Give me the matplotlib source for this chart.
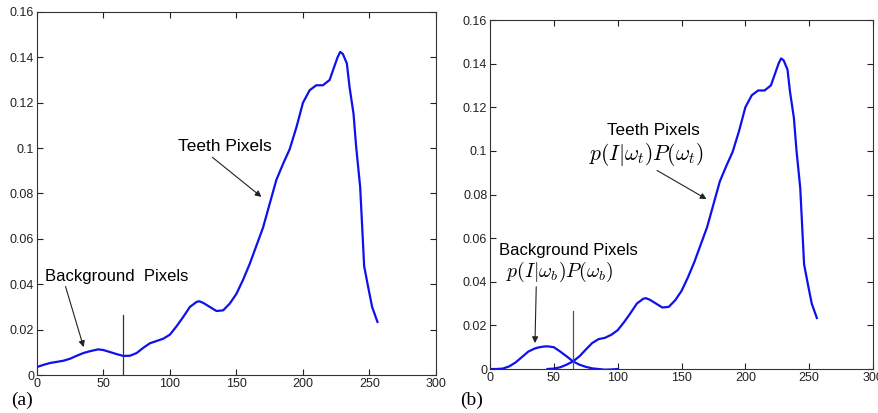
import numpy as np
import matplotlib
import matplotlib.pyplot as plt
from matplotlib.ticker import FuncFormatter

plt.rcParams['mathtext.fontset'] = 'cm'
plt.rcParams['font.family'] = ['Liberation Sans', 'DejaVu Sans']

# 歯の画素のヒストグラム（読み取り値）
teeth_x = [0, 5, 10, 15, 20, 25, 30, 35, 40, 46, 50, 55, 60, 65, 70, 75, 80, 85, 90, 95,
           100, 105, 110, 115, 120, 122, 125, 130, 135, 140, 145, 150, 155, 160, 165, 170,
           175, 180, 185, 190, 195, 200, 205, 210, 215, 220, 223, 226, 228, 230, 233,
           235, 238, 240, 243, 246, 249, 252, 256]
teeth_y = [0.0035, 0.0045, 0.0053, 0.0058, 0.0063, 0.0072, 0.0085, 0.0097, 0.0105, 0.0113,
           0.0110, 0.0101, 0.0092, 0.0084, 0.0085, 0.0097, 0.0120, 0.0140, 0.0150, 0.0160,
           0.0178, 0.0215, 0.0256, 0.0300, 0.0322, 0.0325, 0.0318, 0.0300, 0.0282, 0.0285,
           0.0315, 0.0358, 0.0420, 0.0490, 0.0570, 0.0650, 0.0755, 0.0860, 0.0930, 0.0995,
           0.1090, 0.1200, 0.1255, 0.1277, 0.1277, 0.1300, 0.1350, 0.1400, 0.1424, 0.1415,
           0.1373, 0.1270, 0.1152, 0.1005, 0.0829, 0.0480, 0.0388, 0.0300, 0.0234]

# (b) 背景画素の推定分布
bg_x = [0, 5, 10, 15, 20, 25, 30, 35, 38, 42, 45, 50, 55, 60, 65, 70, 75, 80, 85, 90, 95, 100]
bg_y = [0.0, 0.0, 0.0002, 0.0012, 0.0030, 0.0055, 0.0080, 0.0094, 0.0099, 0.0103, 0.0104,
        0.0100, 0.0080, 0.0058, 0.0035, 0.0020, 0.0010, 0.0003, 0.0, -0.0003, -0.0002, 0.0]

# (b) 歯の画素の推定分布（100以降は teeth と同じ）
teeth_b_x = [45, 50, 55, 60, 65, 70, 75, 80, 85, 90, 95] + teeth_x[20:]
teeth_b_y = [0.0, 0.0002, 0.0008, 0.0020, 0.0035, 0.0058, 0.0089, 0.0119, 0.0137, 0.0143,
             0.0157] + teeth_y[20:]

threshold = 65
x_ticks = [0, 50, 100, 150, 200, 250, 300]
y_ticks = [0, 0.02, 0.04, 0.06, 0.08, 0.1, 0.12, 0.14, 0.16]

line_color = '#1010ee'

fig = plt.figure(figsize=(8.79, 4.13), dpi=100)
ax_a = fig.add_axes([0.042, 0.092, 0.454, 0.879])
ax_b = fig.add_axes([0.5575, 0.1065, 0.4357, 0.845])


def style_axes(ax):
    ax.set_xlim(0, 300)
    ax.set_ylim(0, 0.16)
    ax.set_xticks(x_ticks)
    ax.set_yticks(y_ticks)
    ax.xaxis.set_major_formatter(FuncFormatter(lambda v, p: '%g' % v))
    ax.yaxis.set_major_formatter(FuncFormatter(lambda v, p: '%g' % v))
    ax.tick_params(direction='in', top=True, right=True, length=4, width=0.8,
                   labelsize=9, pad=2, colors='#222222')
    for s in ax.spines.values():
        s.set_linewidth(0.8)
        s.set_color('#333333')


arrow_kw = dict(arrowstyle='-|>', color='#222222', lw=0.8,
                shrinkA=0, shrinkB=0, mutation_scale=9)

# (a)
ax_a.plot(teeth_x, teeth_y, color=line_color, lw=1.6)
ax_a.plot([threshold, threshold], [0, 0.0266], color='#333333', lw=0.9)
style_axes(ax_a)
ax_a.annotate('Teeth Pixels', xy=(168.8, 0.0785), xytext=(106, 0.1005),
              fontsize=12.5, va='center', ha='left',
              arrowprops=dict(relpos=(0.33, 0.0), **arrow_kw))
ax_a.annotate('Background  Pixels', xy=(35.1, 0.0123), xytext=(5.8, 0.0435),
              fontsize=12, va='center', ha='left',
              arrowprops=dict(relpos=(0.14, 0.0), **arrow_kw))

# (b)
ax_b.plot(bg_x, bg_y, color=line_color, lw=1.6)
ax_b.plot(teeth_b_x, teeth_b_y, color=line_color, lw=1.6)
ax_b.plot([threshold, threshold], [0, 0.0266], color='#555555', lw=0.9)
style_axes(ax_b)
ax_b.text(127.8, 0.1095, 'Teeth Pixels', fontsize=12.3, ha='center', va='center')
ax_b.annotate(r'$p(I|\omega_t)P(\omega_t)$', xy=(169.6, 0.0779), xytext=(122.6, 0.0985),
              fontsize=15.5, va='center', ha='center',
              arrowprops=dict(relpos=(0.55, 0.0), **arrow_kw))
ax_b.text(61.3, 0.0545, 'Background Pixels', fontsize=12, ha='center', va='center')
ax_b.annotate(r'$p(I|\omega_b)P(\omega_b)$', xy=(35.2, 0.0119), xytext=(54.8, 0.0445),
              fontsize=14.3, va='center', ha='center',
              arrowprops=dict(relpos=(0.28, 0.0), **arrow_kw))

fig.text(0.025, 0.03, '(a)', fontsize=14, family='Liberation Serif', va='center', ha='center')
fig.text(0.537, 0.03, '(b)', fontsize=14, family='Liberation Serif', va='center', ha='center')

fig.savefig('out.png', dpi=100)
